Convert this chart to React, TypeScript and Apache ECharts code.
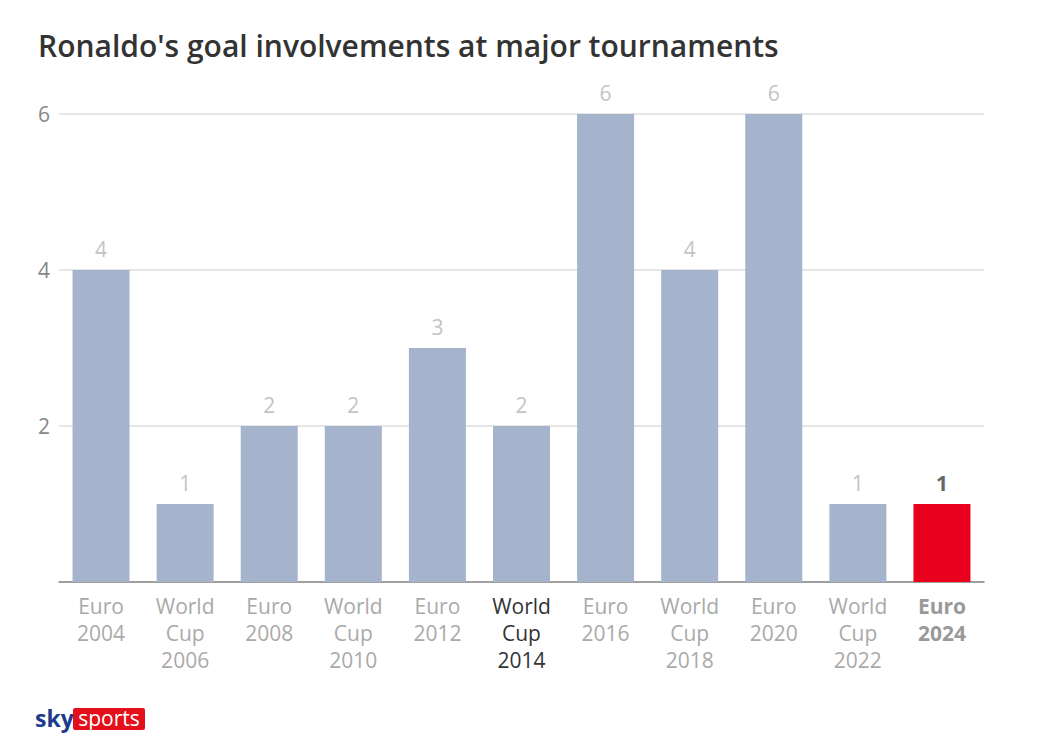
import React, { useEffect, useRef } from "react";
import * as echarts from "echarts";

const categories = [
  "Euro\n2004",
  "World\nCup\n2006",
  "Euro\n2008",
  "World\nCup\n2010",
  "Euro\n2012",
  "World\nCup\n2014",
  "Euro\n2016",
  "World\nCup\n2018",
  "Euro\n2020",
  "World\nCup\n2022",
  "Euro\n2024",
];
const values = [4, 1, 2, 2, 3, 2, 6, 4, 6, 1, 1];
const yTicks = [0, 2, 4, 6];
const highlightIndex = 10;
const hoverIndex = 5;

const FONT = "'Open Sans', 'Noto Sans', sans-serif";

export default function App() {
  const ref = useRef<HTMLDivElement>(null);
  useEffect(() => {
    document.body.style.margin = "0";
    const chart = echarts.init(ref.current!, null, { renderer: "svg" });
    chart.setOption({
      animation: false,
      backgroundColor: "#ffffff",
      textStyle: { fontFamily: FONT },
      title: {
        text: "Ronaldo's goal involvements at major tournaments",
        left: 33,
        top: 25,
        textStyle: { fontSize: 30, fontWeight: 600, color: "#333333", fontFamily: FONT },
      },
      grid: { left: 59, right: 55, top: 114, bottom: 158 },
      xAxis: {
        type: "category",
        data: categories.map((c, i) => ({
          value: c,
          textStyle:
            i === highlightIndex
              ? { color: "#999999", fontWeight: "bold" }
              : i === hoverIndex
              ? { color: "#333333" }
              : { color: "#aaaaaa" },
        })),
        axisLine: { lineStyle: { color: "#888888", width: 1.5 } },
        axisTick: { show: false },
        axisLabel: {
          interval: 0,
          fontSize: 21,
          lineHeight: 27,
          margin: 10,
          verticalAlign: "top",
          fontFamily: FONT,
        },
      },
      yAxis: {
        type: "value",
        min: yTicks[0],
        max: yTicks[yTicks.length - 1],
        interval: 2,
        axisLine: { show: false },
        axisTick: { show: false },
        splitLine: {
          lineStyle: { color: "#dddddd", width: 1.5 },
        },
        axisLabel: {
          fontSize: 21,
          color: "#888888",
          margin: 9,
          fontFamily: FONT,
          formatter: (v: number) => (v === 0 ? "" : String(v)),
        },
      },
      series: [
        {
          type: "bar",
          barWidth: 57,
          data: values.map((v, i) => ({
            value: v,
            itemStyle: { color: i === highlightIndex ? "#e8001c" : "#a6b3cd" },
            label:
              i === highlightIndex
                ? { color: "#666666", fontWeight: "bold" }
                : { color: "#c4c4c4" },
          })),
          label: {
            show: true,
            position: "top",
            distance: 11,
            fontSize: 21,
            fontFamily: FONT,
          },
        },
      ],
      graphic: [
        {
          type: "text",
          x: 35,
          y: 718,
          style: {
            text: "sky",
            fontSize: 23,
            fontWeight: "bold",
            fontFamily: FONT,
            fill: "#1c3b8c",
            verticalAlign: "middle",
          },
        },
        {
          type: "rect",
          shape: { x: 73, y: 708, width: 72, height: 22, r: 2 },
          style: { fill: "#e3101c" },
        },
        {
          type: "text",
          x: 109,
          y: 718,
          style: {
            text: "sports",
            fontSize: 21,
            fontFamily: FONT,
            fill: "#ffffff",
            align: "center",
            verticalAlign: "middle",
          },
        },
      ],
    });
    return () => chart.dispose();
  }, []);
  return (
    <div
      ref={ref}
      style={{ position: "absolute", left: 0, top: 0, width: 1039, height: 740 }}
    />
  );
}
